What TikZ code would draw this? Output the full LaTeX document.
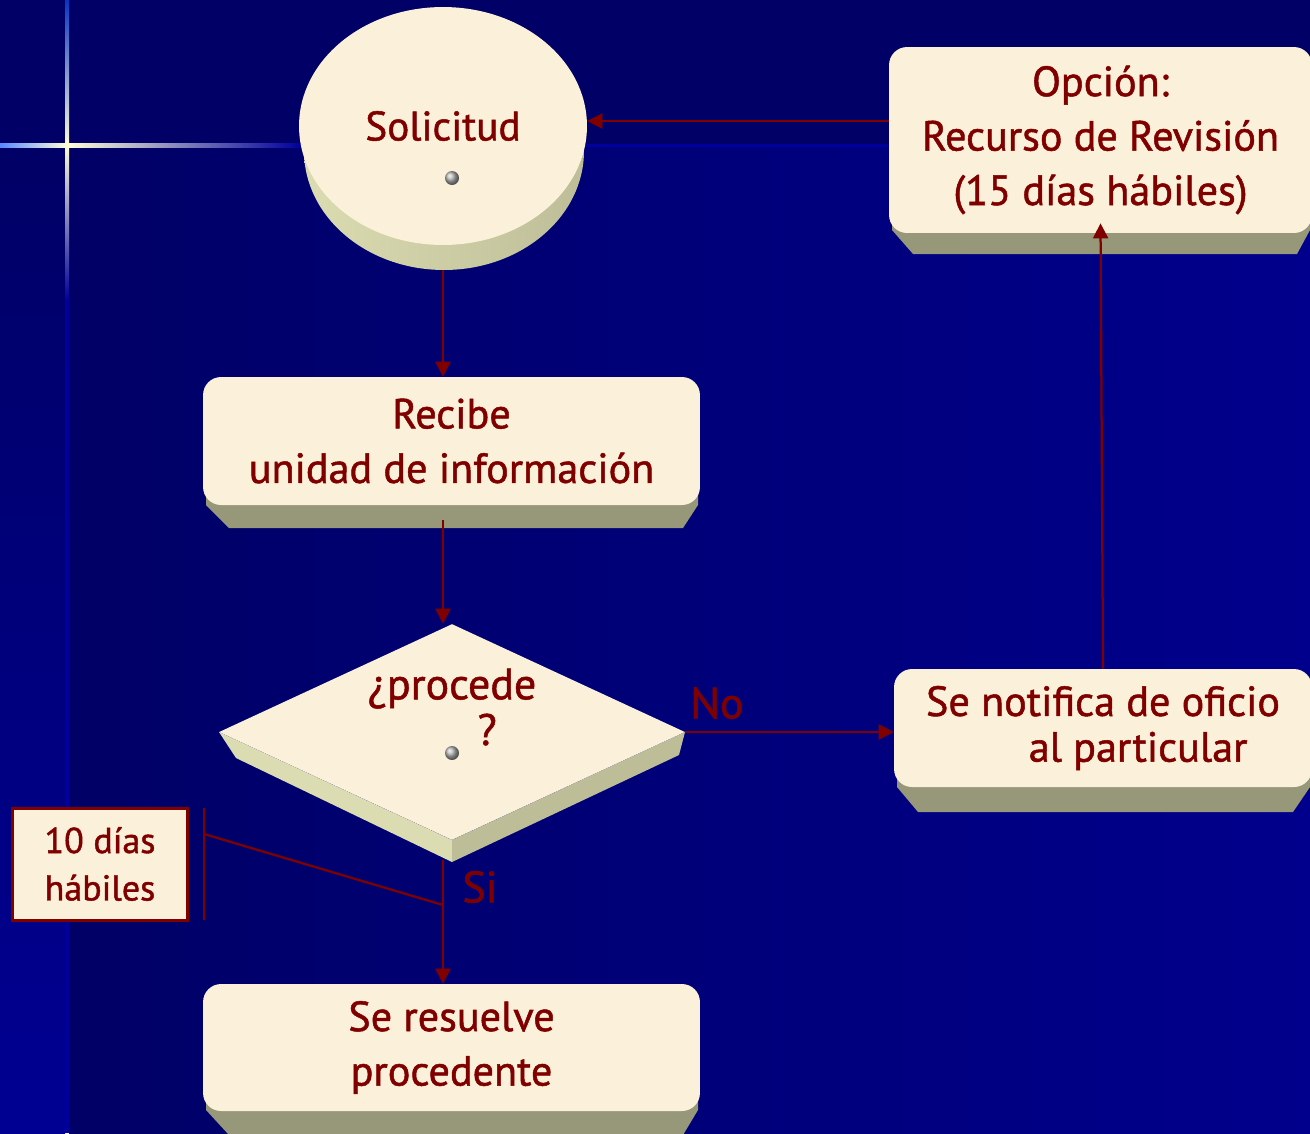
\documentclass[tikz,border=0pt]{standalone}
\usepackage{fontspec}
\setmainfont{PT Sans}
\newfontfamily\slidefont{PT Sans}[FakeBold=1.2]
\usetikzlibrary{shapes.geometric,arrows.meta}

\definecolor{navy}{HTML}{000066}
\definecolor{slideblue}{HTML}{00008C}
\definecolor{stripblue}{HTML}{000092}
\definecolor{edgeblue}{HTML}{00009C}
\definecolor{cream}{HTML}{FBF1DA}
\definecolor{band}{HTML}{979779}
\definecolor{sidelight}{HTML}{DCDCB2}
\definecolor{sidemid}{HTML}{A9A986}
\definecolor{sidedark}{HTML}{BDBD98}
\definecolor{wine}{HTML}{800000}
\definecolor{glow}{HTML}{FFFFD8}
\definecolor{glowblue}{HTML}{1155FF}

\begin{document}
\begin{tikzpicture}[x=0.02cm,y=-0.02cm,
    box/.style={rectangle,fill=cream,rounded corners=0.36cm,inner sep=0pt,text=wine,align=center,font=\slidefont\fontsize{24}{31}\selectfont},
    txt/.style={text=wine,align=center,inner sep=0pt,font=\slidefont\fontsize{25}{26}\selectfont},
    lbl/.style={text=wine,inner sep=0pt,font=\slidefont\fontsize{25}{30}\selectfont},
    arr/.style={draw=wine,line width=0.045cm,-{Triangle[length=0.3cm,width=0.3cm]}},
    wineline/.style={draw=wine,line width=0.045cm}]

    \useasboundingbox (0,0) rectangle (1310,1133);
    \fill[navy] (0,0) rectangle (1310,1133);
    \shade[left color=navy,right color=slideblue] (69,145) rectangle (1310,1133);
    \shade[top color=navy,bottom color=stripblue] (0,147) rectangle (65,1133);

    \shade[top color=navy!40!glowblue,middle color=glowblue,bottom color=glow] (65,0) rectangle (69,145);
    \shade[top color=glow,middle color=glowblue,bottom color=edgeblue] (65,145) rectangle (69,300);
    \fill[edgeblue] (65,300) rectangle (69,1133);
    \shade[left color=glowblue!70!white,right color=glow] (0,143) rectangle (67,147);
    \shade[left color=glow,middle color=glowblue,right color=edgeblue] (67,143) rectangle (300,147);
    \fill[edgeblue] (300,143.5) rectangle (1310,147);

    \shade[left color=sidelight,middle color=sidemid,right color=sidedark] (444,151) ellipse [x radius=2.8cm,y radius=2.38cm];
    \node[box,ellipse,minimum width=5.76cm,minimum height=4.76cm,font=\slidefont\fontsize{23.5}{31}\selectfont] (sol) at (443,126) {Solicitud};
    \shade[ball color=gray!60] (452,178) circle [radius=0.14cm];

    \fill[band] (206,490) -- (206,505) -- (229,528) -- (683,528) -- (698,505) -- (698,490) -- cycle;
    \node[box,minimum width=9.94cm,minimum height=2.56cm] (recibe) at (451.5,441) {Recibe\\unidad de información};

    \fill[sidelight] (219,732) -- (452,840) -- (452,862) -- (236,758) -- cycle;
    \fill[sidedark] (452,840) -- (685,732) -- (679,755) -- (452,862) -- cycle;
    \node[diamond,fill=cream,inner sep=0pt,minimum width=9.32cm,minimum height=4.32cm] (proc) at (452,732) {};
    \node[txt] (proctxt) at (452,707) {¿procede\\\hspace*{40pt}?};
    \shade[ball color=gray!60] (452,753) circle [radius=0.14cm];

    \fill[band] (897,772) -- (897,787) -- (918,812) -- (1293,812) -- (1310,787) -- (1310,772) -- cycle;
    \node[box,font=\slidefont\fontsize{24}{26}\selectfont,minimum width=8.36cm,minimum height=2.36cm] (notif) at (1103,728) {Se notifica de oficio\\\hspace*{40pt}al particular};

    \fill[band] (892,215) -- (892,230) -- (913,254) -- (1297,254) -- (1310,230) -- (1310,215) -- cycle;
    \node[box,minimum width=8.46cm,minimum height=3.72cm] (opcion) at (1100.5,140) {Opción:\\Recurso de Revisión\\(15 días hábiles)};

    \fill[band] (206,1095) -- (206,1110) -- (229,1135) -- (683,1135) -- (698,1110) -- (698,1095) -- cycle;
    \node[box,minimum width=9.94cm,minimum height=2.54cm] (res) at (451.5,1047.5) {Se resuelve\\procedente};

    \node[box,rounded corners=0pt,draw=wine,line width=0.06cm,minimum width=3.52cm,minimum height=2.24cm,font=\slidefont\fontsize{20.5}{27}\selectfont] (dias) at (100,864) {10 días\\hábiles};

    \node[lbl] (no) at (717,703) {No};
    \node[lbl] (si) at (480,887) {Si};

    \draw[arr] ([yshift=0.1cm]opcion.west |- sol.east) -- ([yshift=0.1cm]sol.east);
    \draw[arr] ([yshift=-0.5cm]sol.south) -- (sol.south |- recibe.north);
    \draw[arr] ([yshift=-0.3cm]recibe.south -| sol.south) -- (sol.south |- proc.north);
    \draw[arr] (proc.east) -- (proc.east -| notif.west);
    \draw[arr] (notif.north) -- ([yshift=0.2cm]opcion.south);
    \draw[arr] ([yshift=-0.4cm]proc.south -| sol.south) -- (sol.south |- res.north);

    \coordinate (brtop) at (204,808);
    \coordinate (brbot) at (204,920);
    \coordinate (brmid) at (204,834);
    \coordinate (sijoin) at (443,905);
    \draw[wineline] (brtop) -- (brbot);
    \draw[wineline] (brmid) -- (sijoin);
\end{tikzpicture}
\end{document}
